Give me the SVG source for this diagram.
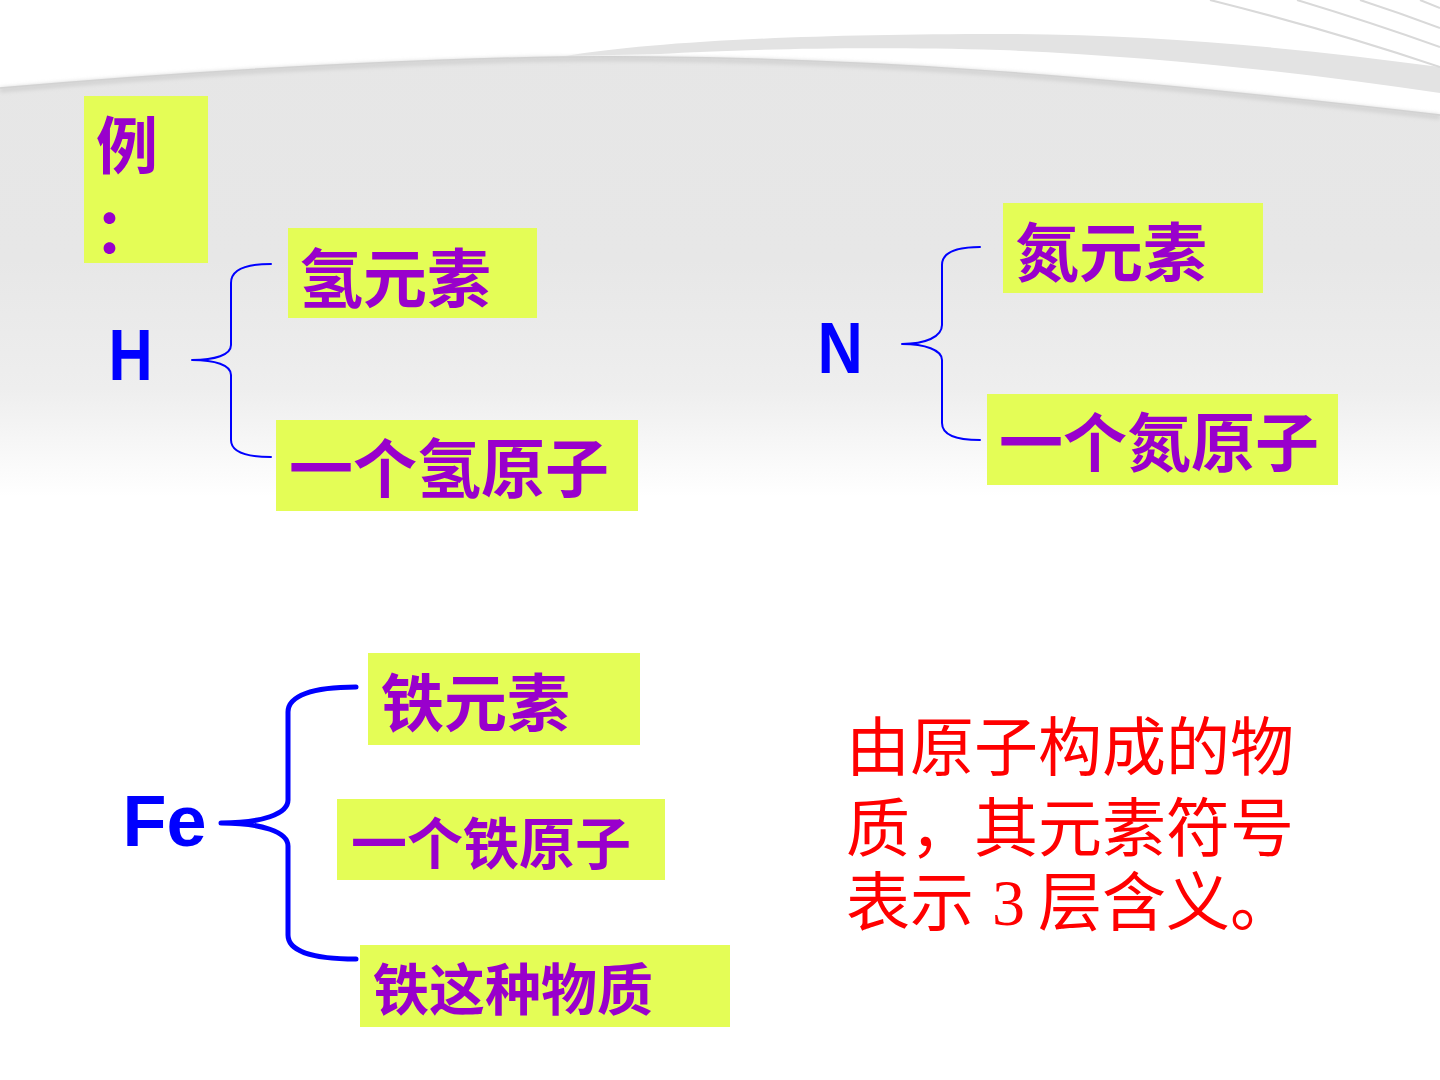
<svg xmlns="http://www.w3.org/2000/svg" width="1440" height="1080" viewBox="0 0 1440 1080">
  <defs>
    <linearGradient id="bgFade" gradientUnits="userSpaceOnUse" x1="0" y1="0" x2="0" y2="1080">
      <stop offset="0" stop-color="#e6e6e6"/>
      <stop offset="0.24" stop-color="#e7e7e7"/>
      <stop offset="0.36" stop-color="#eeeeee"/>
      <stop offset="0.46" stop-color="#ffffff"/>
      <stop offset="1" stop-color="#ffffff"/>
    </linearGradient>
    <filter id="soft" x="-5%" y="-50%" width="110%" height="200%">
      <feGaussianBlur stdDeviation="2"/>
    </filter>
    <style>
      .box { fill: #e4fd56; }
      .term { font-family: "Noto Sans CJK SC", sans-serif; font-weight: 700; fill: #9900cc; }
      .sym { font-family: "Liberation Sans", Arial, sans-serif; font-weight: 700; fill: #0000ff; }
      .note { font-family: "Noto Sans CJK SC", sans-serif; font-weight: 400; fill: #ff0000; font-size: 64px; }
      .brace { fill: none; stroke: #0000ff; stroke-linecap: round; stroke-linejoin: round; }
      .ray { fill: none; stroke: #d9d9d9; stroke-width: 2; }
    </style>
  </defs>

  <!-- slide background -->
  <g id="background">
    <rect x="0" y="0" width="1440" height="1080" fill="#ffffff"/>
    <path d="M0,88 C250,66 500,55 650,57 C850,59 1050,70 1440,115 L1440,1080 L0,1080 Z" fill="url(#bgFade)"/>
    <path d="M0,90 C250,68 500,57 650,59 C850,61 1050,72 1440,117" fill="none" stroke="#cdcdcd" stroke-width="4" filter="url(#soft)"/>
    <path d="M0,88 C250,66 500,55 650,57 C850,59 1050,70 1440,115" fill="none" stroke="#d2d2d2" stroke-width="1.5"/>
    <path d="M566,56 C650,42 800,34 1000,34 C1150,34 1300,48 1440,67 L1440,93 C1300,72 1150,56 1000,50 C850,46 730,50 660,54 Z" fill="#e3e3e3"/>
    <path class="ray" d="M1210,0 Q1330,30 1440,67"/>
    <path class="ray" d="M1297,0 Q1370,22 1440,47"/>
    <path class="ray" d="M1360,0 Q1400,13 1440,28"/>
    <path class="ray" d="M1420,0 Q1430,4 1440,8"/>
  </g>

  <!-- example label -->
  <g id="label-example">
    <rect class="box" x="84" y="96" width="124" height="167"/>
    <text class="term" x="96" y="169" font-size="62">例</text>
    <text class="term" x="94" y="254" font-size="62">：</text>
  </g>

  <!-- hydrogen -->
  <g id="sym-H">
    <text class="sym" font-size="72" transform="translate(108.5,380) scale(0.85,1)">H</text>
  </g>
  <g id="H-element">
    <rect class="box" x="288" y="228" width="249" height="90"/>
    <text class="term" x="299" y="302" font-size="64">氢元素</text>
  </g>
  <g id="H-atom">
    <rect class="box" x="276" y="420" width="362" height="91"/>
    <text class="term" x="289" y="492" font-size="64">一个氢原子</text>
  </g>

  <!-- nitrogen -->
  <g id="sym-N">
    <text class="sym" font-size="73" transform="translate(817.4,373) scale(0.86,1)">N</text>
  </g>
  <g id="N-element">
    <rect class="box" x="1003" y="203" width="260" height="90"/>
    <text class="term" x="1015" y="276" font-size="64">氮元素</text>
  </g>
  <g id="N-atom">
    <rect class="box" x="987" y="394" width="351" height="91"/>
    <text class="term" x="999" y="466" font-size="64">一个氮原子</text>
  </g>

  <!-- iron -->
  <g id="sym-Fe">
    <text class="sym" x="122.5" y="846" font-size="72">Fe</text>
  </g>
  <g id="Fe-element">
    <rect class="box" x="368" y="653" width="272" height="92"/>
    <text class="term" x="381" y="726" font-size="63">铁元素</text>
  </g>
  <g id="Fe-atom">
    <rect class="box" x="337" y="799" width="328" height="81"/>
    <text class="term" x="351" y="864" font-size="56">一个铁原子</text>
  </g>
  <g id="Fe-substance">
    <rect class="box" x="360" y="945" width="370" height="82"/>
    <text class="term" x="373" y="1010" font-size="56">铁这种物质</text>
  </g>

  <!-- conclusion note, three wrapped lines -->
  <g id="note">
    <text class="note"><tspan x="846" y="770">由原子构成的物</tspan><tspan x="846" y="851">质，其元素符号</tspan><tspan x="846" y="925">表示</tspan><tspan x="992" y="925" font-family="'Liberation Serif', serif" font-size="66">3</tspan><tspan x="1038" y="925">层含义。</tspan></text>
  </g>

  <!-- braces linking each symbol to its meanings -->
  <g id="connectors">
    <path class="brace" stroke-width="2" d="M271,264 C245,264 231,270 231,283 L231,345 C231,355 215,360 192,360 C215,360 231,365 231,375 L231,440 C231,452 245,457 271,457"/>
    <path class="brace" stroke-width="2" d="M980,247 C955,247 942,253 942,265 L942,325 C942,337 925,344 902,344 C925,344 942,350 942,360 L942,423 C942,435 955,440 980,440"/>
    <path class="brace" stroke-width="5" d="M356,687 C312,687 288,696 288,712 L288,800 C288,814 262,823 221,823 C262,823 288,832 288,846 L288,935 C288,951 312,959 356,959"/>
  </g>
</svg>
